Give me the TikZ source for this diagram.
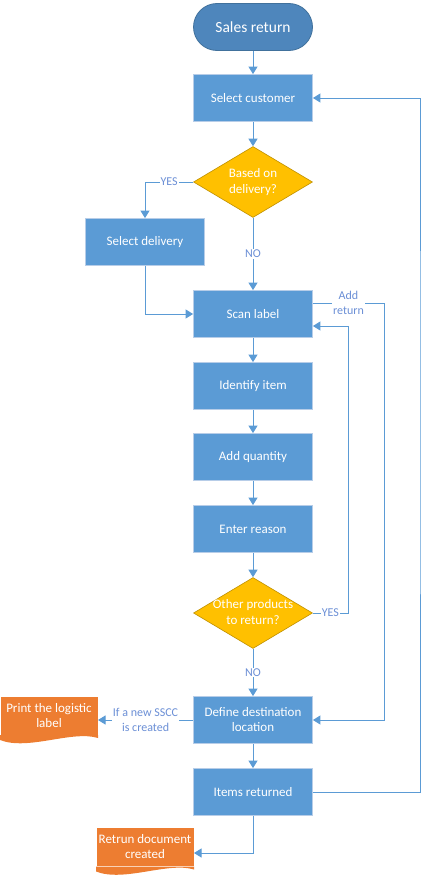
\documentclass[tikz,border=0pt]{standalone}
\usepackage{fontspec}
\setmainfont{Carlito}
\usepackage{xcolor}
\usetikzlibrary{shapes.geometric,arrows.meta,calc,positioning}

\definecolor{boxblue}{HTML}{5B9BD5}
\definecolor{boxedge}{HTML}{B7CDE8}
\definecolor{termblue}{HTML}{4E86BC}
\definecolor{termedge}{HTML}{41719C}
\definecolor{decyellow}{HTML}{FFC000}
\definecolor{decedge}{HTML}{BF9000}
\definecolor{docorange}{HTML}{ED7D31}
\definecolor{lineblue}{HTML}{5B9BD5}
\definecolor{labelblue}{HTML}{6B8FD6}

\newcommand{\dtext}[1]{\makebox[0pt]{\begin{tabular}{@{}c@{}}#1\end{tabular}}}

\begin{document}
\begin{tikzpicture}[x=1pt, y=-1pt]
	\tikzstyle{every node} = [text=white, font=\fontsize{13}{15}\selectfont, align=center, inner sep=0pt]
	\tikzstyle{process} = [rectangle, fill=boxblue, draw=boxedge, line width=0.8pt, minimum width=119pt, minimum height=47pt]
	\tikzstyle{terminal} = [rectangle, rounded corners=23.5pt, fill=termblue, draw=termedge, line width=0.8pt, minimum width=119pt, minimum height=47pt, font=\fontsize{15.5}{18}\selectfont]
	\tikzstyle{decision} = [diamond, fill=decyellow, draw=decedge, line width=0.6pt, minimum width=119pt, minimum height=71pt, shape aspect=1.67, font=\fontsize{13}{16.5}\selectfont]
	\tikzstyle{document} = [rectangle, fill=docorange, minimum width=97pt, minimum height=38pt]
	\tikzstyle{lbl} = [fill=white, text=labelblue, font=\fontsize{12}{14.5}\selectfont, inner sep=1pt]
	\tikzstyle{every path} = [draw=lineblue, line width=1pt]
	\tikzstyle{flow} = [-{Triangle[width=9pt,length=7.5pt]}]

	\useasboundingbox[draw=none] (0,0) rectangle (421,878);

\node[terminal] (1) at (253, 27) {Sales return};
\node[process] (2) at (253, 98) {Select customer};
\node[decision] (3) at (253, 182) {\dtext{Based on\\delivery?}};
\node[process] (4) at (145, 242) {Select delivery};
\node[process] (5) at (253, 314) {Scan label};
\node[process] (6) at (253, 386) {Identify item};
\node[process] (7) at (253, 457) {Add quantity};
\node[process] (8) at (253, 529) {Enter reason};
\node[decision] (9) at (253, 613) {\dtext{Other products\\to return?}};
\node[process] (10) at (253, 720) {Define destination\\location};
\node[process] (11) at (253, 792) {Items returned};
\node[document] (12) at (49, 715.5) {Print the logistic\\label};
\node[document] (13) at (145, 847) {Retrun document\\created};

	% wavy bottoms of the documents
	\foreach \d in {12,13} {
		\fill[docorange, draw=none] (\d.south west) -- ++(0,5) .. controls +(28,11) and +(-26,-8) .. ($(\d.south east)+(0,3)$) -- (\d.south east) -- cycle;
	}

	\coordinate (a1) at (384, 303);
	\coordinate (a2) at (348, 326);
	\coordinate (a3) at (420, 400);

	\path[draw, flow] (1) -- (2);
	\path[draw, flow] (2) -- (3);
	\path[draw, flow] (3.west) -| node[lbl, pos=0.25] {YES} (4.north);
	\path[draw, flow] (3) -- node[lbl] {NO} (5);
	\path[draw, flow] (4.south) |- (5.west);
	\path[draw, flow] (5) -- (6);
	\path[draw, flow] (6) -- (7);
	\path[draw, flow] (7) -- (8);
	\path[draw, flow] (8) -- (9);
	\path[draw, flow] (9) -- node[lbl] {NO} (10);
	\path[draw, flow] (10) -- (11);
	\path[draw, flow] (5.east |- a1) -- node[lbl] {Add\\return} (a1) |- (10.east);
	\path[draw, flow] (9.east) -| node[lbl, pos=0.25] {YES} (a2) -- (a2 -| 5.east);
	\path[draw, flow] (11.east) -| (a3) |- (2.east);
	\path[draw, flow] (10.west) -- node[lbl] {If a new SSCC\\is created} (10.west -| 12.east);
	\path[draw, flow] (11.south) |- ($(13.east)+(0,6)$);
	\end{tikzpicture}
\end{document}
